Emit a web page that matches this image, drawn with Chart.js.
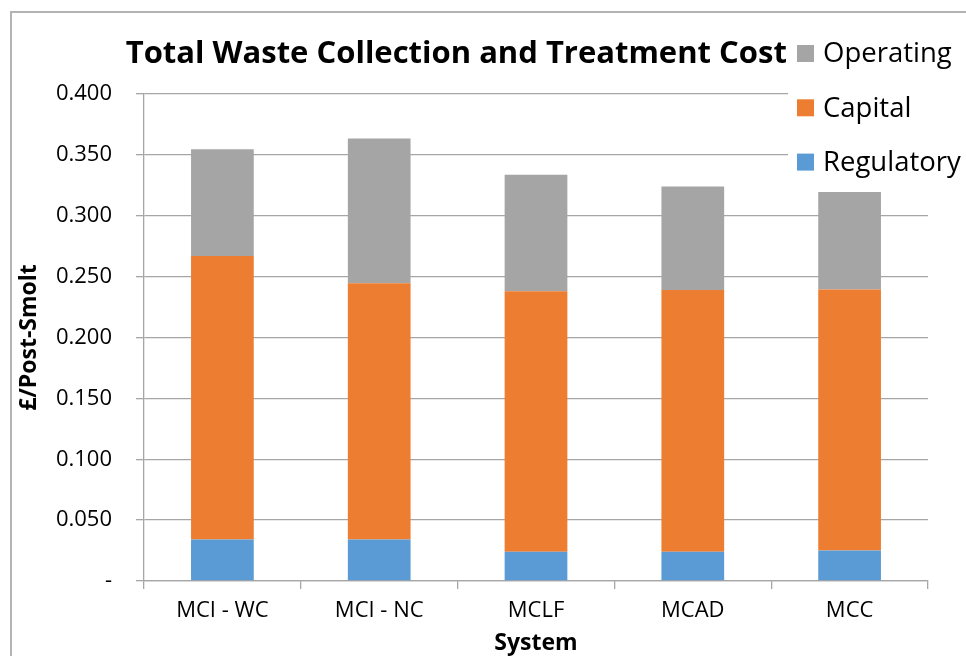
<!DOCTYPE html>
<html>
<head>
<meta charset="utf-8">
<script src="https://cdn.jsdelivr.net/npm/chart.js@4.4.1/dist/chart.umd.min.js"></script>
<style>
  html, body { margin: 0; padding: 0; background: #fff; overflow: hidden; }
  #frame { position: absolute; left: 10px; top: 11px; width: 1000px; height: 700px; border: 2px solid #b3b3b3; box-sizing: border-box; }
  #wrap { position: absolute; left: 0; top: 0; width: 966px; height: 656px; }
</style>
</head>
<body>
<div id="frame"></div>
<div id="wrap"><canvas id="c" width="966" height="656"></canvas></div>
<script>
const categories = ['MCI - WC', 'MCI - NC', 'MCLF', 'MCAD', 'MCC'];
const regulatory = [0.034, 0.034, 0.024, 0.024, 0.025];
const capital    = [0.233, 0.2105, 0.214, 0.215, 0.2145];
const operating  = [0.0877, 0.119, 0.0956, 0.085, 0.080];
const yTicks = [0, 0.05, 0.1, 0.15, 0.2, 0.25, 0.3, 0.35, 0.4];
const chartTitle = 'Total Waste Collection and Treatment Costs';
const yTitle = '£/Post-Smolt';
const xTitle = 'System';

const FONT = '"Open Sans", "Liberation Sans", sans-serif';

const overlayLegend = {
  id: 'overlayLegend',
  afterDraw(chart) {
    const ctx = chart.ctx;
    ctx.save();
    ctx.fillStyle = '#ffffff';
    ctx.fillRect(788, 26, 180, 152);
    const items = chart.data.datasets.slice().reverse();
    ctx.font = '27.5px ' + FONT;
    ctx.textBaseline = 'middle';
    ctx.textAlign = 'left';
    items.forEach((ds, i) => {
      const cy = 53.5 + i * 54.3;
      ctx.fillStyle = ds.backgroundColor;
      ctx.fillRect(797, cy - 8.5, 17, 17);
      ctx.fillStyle = '#000';
      ctx.fillText(ds.label, 823, cy + 1);
    });
    ctx.restore();
  }
};

new Chart(document.getElementById('c'), {
  type: 'bar',
  data: {
    labels: categories,
    datasets: [
      { label: 'Regulatory', data: regulatory, backgroundColor: '#5B9BD5' },
      { label: 'Capital', data: capital, backgroundColor: '#ED7D31' },
      { label: 'Operating', data: operating, backgroundColor: '#A5A5A5' }
    ]
  },
  options: {
    responsive: false,
    animation: false,
    devicePixelRatio: 1,
    layout: { padding: { left: 0, right: 38, top: 0, bottom: 0 } },
    datasets: { bar: { barPercentage: 0.8, categoryPercentage: 0.5, borderWidth: 0 } },
    plugins: {
      legend: { display: false },
      tooltip: { enabled: false },
      title: {
        display: true,
        text: chartTitle,
        color: '#000',
        font: { family: FONT, size: 31, weight: 'bold', lineHeight: 1.2 },
        padding: { top: 35.4, bottom: 21.4 }
      }
    },
    scales: {
      x: {
        stacked: true,
        grid: { drawOnChartArea: false, drawTicks: true, tickLength: 8, color: '#a6a6a6', lineWidth: 1.3 },
        border: { color: '#a6a6a6', width: 1.3 },
        ticks: { color: '#000', font: { family: FONT, size: 22 }, padding: 9, maxRotation: 0 },
        title: { display: true, text: xTitle, color: '#000', font: { family: FONT, size: 23, weight: 'bold', lineHeight: 1.2 }, padding: { top: 0, bottom: -1 } },
        afterFit(scale) { scale.height = 75; }
      },
      y: {
        stacked: true,
        min: 0,
        max: 0.4,
        afterBuildTicks(scale) { scale.ticks = yTicks.map(v => ({ value: v })); },
        grid: { color: '#a6a6a6', lineWidth: 1.3, tickLength: 8 },
        border: { color: '#a6a6a6', width: 1.3 },
        ticks: {
          color: '#000',
          font: { family: FONT, size: 22 },
          padding: 24,
          callback(v) { return v === 0 ? '-' : Number(v).toFixed(3); }
        },
        title: { display: true, text: yTitle, color: '#000', font: { family: FONT, size: 23, weight: 'bold', lineHeight: 1.2 }, padding: { top: 16, bottom: 0 } },
        afterFit(scale) { scale.width = 144; }
      }
    }
  },
  plugins: [overlayLegend]
});
</script>
</body>
</html>
